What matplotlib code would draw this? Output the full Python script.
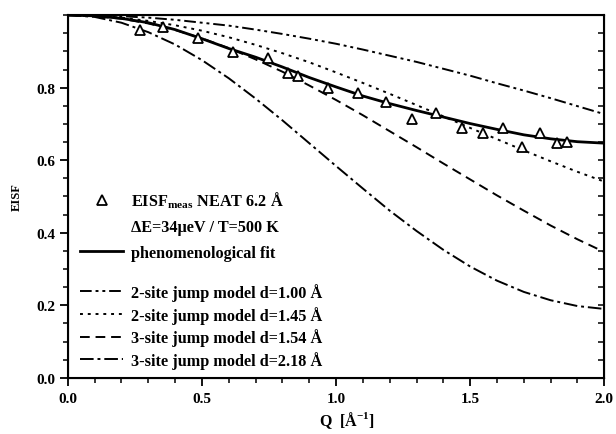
"""
EISF vs Q with jump-model curves
"""

import matplotlib

matplotlib.use("Agg")
import matplotlib.pyplot as plt
from matplotlib.lines import Line2D
from matplotlib.ticker import MultipleLocator

plt.rcParams["font.family"] = ["Liberation Serif", "DejaVu Serif"]
plt.rcParams["font.weight"] = "bold"
plt.rcParams["mathtext.fontset"] = "custom"
plt.rcParams["mathtext.rm"] = "Liberation Serif:bold"
plt.rcParams["mathtext.bf"] = "Liberation Serif:bold"

# measured EISF (NEAT 6.2 A)
q_meas = [0.269, 0.354, 0.485, 0.616, 0.746, 0.821, 0.858, 0.970, 1.082, 1.187,
          1.284, 1.373, 1.470, 1.549, 1.623, 1.694, 1.761, 1.825, 1.862]
eisf_meas = [0.960, 0.968, 0.938, 0.897, 0.883, 0.841, 0.833, 0.800, 0.786, 0.761,
             0.714, 0.731, 0.690, 0.676, 0.690, 0.637, 0.676, 0.648, 0.651]

# curves read on a 0.1 grid in Q
q_grid = [0.0, 0.1, 0.2, 0.3, 0.4, 0.5, 0.6, 0.7, 0.8, 0.9, 1.0,
          1.1, 1.2, 1.3, 1.4, 1.5, 1.6, 1.7, 1.8, 1.9, 2.0]
fit = [1.000, 0.998, 0.991, 0.979, 0.960, 0.935, 0.908, 0.884, 0.857, 0.828, 0.802,
       0.777, 0.756, 0.737, 0.719, 0.701, 0.685, 0.670, 0.659, 0.651, 0.647]
site2_100 = [1.000, 0.999, 0.997, 0.993, 0.987, 0.979, 0.971, 0.960, 0.948, 0.935, 0.921,
             0.905, 0.888, 0.871, 0.852, 0.833, 0.812, 0.792, 0.771, 0.749, 0.727]
site2_145 = [1.000, 0.998, 0.993, 0.984, 0.972, 0.957, 0.939, 0.918, 0.895, 0.870, 0.842,
             0.813, 0.783, 0.752, 0.721, 0.689, 0.658, 0.627, 0.597, 0.568, 0.541]
site3_154 = [1.000, 0.997, 0.990, 0.977, 0.959, 0.936, 0.909, 0.878, 0.844, 0.806, 0.766,
             0.724, 0.680, 0.636, 0.591, 0.547, 0.503, 0.461, 0.420, 0.382, 0.347]
site3_218 = [1.000, 0.995, 0.979, 0.953, 0.919, 0.876, 0.826, 0.770, 0.710, 0.647, 0.584,
             0.522, 0.461, 0.405, 0.353, 0.307, 0.268, 0.237, 0.214, 0.198, 0.190]

model_labels = [
    "2-site jump model d=1.00 Å",
    "2-site jump model d=1.45 Å",
    "3-site jump model d=1.54 Å",
    "3-site jump model d=2.18 Å",
]

fig = plt.figure(figsize=(6.16, 4.35), dpi=100)
ax = fig.add_axes([0.110, 0.129, 0.871, 0.834])

lw = 1.4
l1, = ax.plot(q_grid, site2_100, color="black", lw=lw, ls=(0, (6, 2, 1.5, 2, 1.5, 2)))
l2, = ax.plot(q_grid, site2_145, color="black", lw=lw, ls=(0, (1.5, 2.5)))
l3, = ax.plot(q_grid, site3_154, color="black", lw=lw, ls=(0, (5, 3)))
l4, = ax.plot(q_grid, site3_218, color="black", lw=lw, ls=(0, (7, 2, 1.5, 2)))
lf, = ax.plot(q_grid, fit, color="black", lw=2.0)
pm, = ax.plot(q_meas, eisf_meas, ls="none", marker="^", ms=6.5, mfc="white",
              mec="black", mew=1.3)

ax.set_xlim(0, 2.0)
ax.set_ylim(0, 1.0)
ax.set_xticks([0.0, 0.5, 1.0, 1.5, 2.0])
ax.xaxis.set_minor_locator(MultipleLocator(0.1))
ax.set_yticks([0.0, 0.2, 0.4, 0.6, 0.8])
ax.yaxis.set_minor_locator(MultipleLocator(0.05))
ax.tick_params(which="major", direction="out", length=6, width=1.3, labelsize=11)
ax.tick_params(which="minor", direction="out", length=3.5, width=1.1)
ax.tick_params(axis="x", pad=4)
ax.tick_params(axis="y", pad=3)
for s in ax.spines.values():
    s.set_linewidth(1.5)

# right side ticks point inward
ax2 = ax.twinx()
ax2.set_ylim(0, 1.0)
ax2.yaxis.set_major_locator(MultipleLocator(0.05))
ax2.tick_params(direction="in", length=4, width=1.1, labelright=False)

ax.set_xlabel("Q  [Å$^{-1}$]", fontsize=11.5, fontweight="bold", labelpad=2)
ax.xaxis.set_label_coords(0.52, -0.085)
ax.set_ylabel("EISF", fontsize=9, fontweight="bold", labelpad=10)

blank = Line2D([], [], ls="none")
leg1 = ax.legend(
    [pm, blank, lf],
    ["EISF$_{\\mathbf{meas}}$ NEAT 6.2 Å", "ΔE=34μeV / T=500 K", "phenomenological fit"],
    loc="upper left", bbox_to_anchor=(0.022, 0.52), frameon=False, borderpad=0,
    borderaxespad=0, handlelength=2.7, handletextpad=0.45, labelspacing=0.58,
    prop={"family": "Liberation Serif", "weight": "bold", "size": 11.7},
)
ax.add_artist(leg1)
ax.legend(
    [l1, l2, l3, l4], model_labels,
    loc="upper left", bbox_to_anchor=(0.022, 0.262), frameon=False, borderpad=0,
    borderaxespad=0, handlelength=2.7, handletextpad=0.45, labelspacing=0.3,
    prop={"family": "Liberation Serif", "weight": "bold", "size": 11.7},
)

fig.savefig("out.png", dpi=100)
